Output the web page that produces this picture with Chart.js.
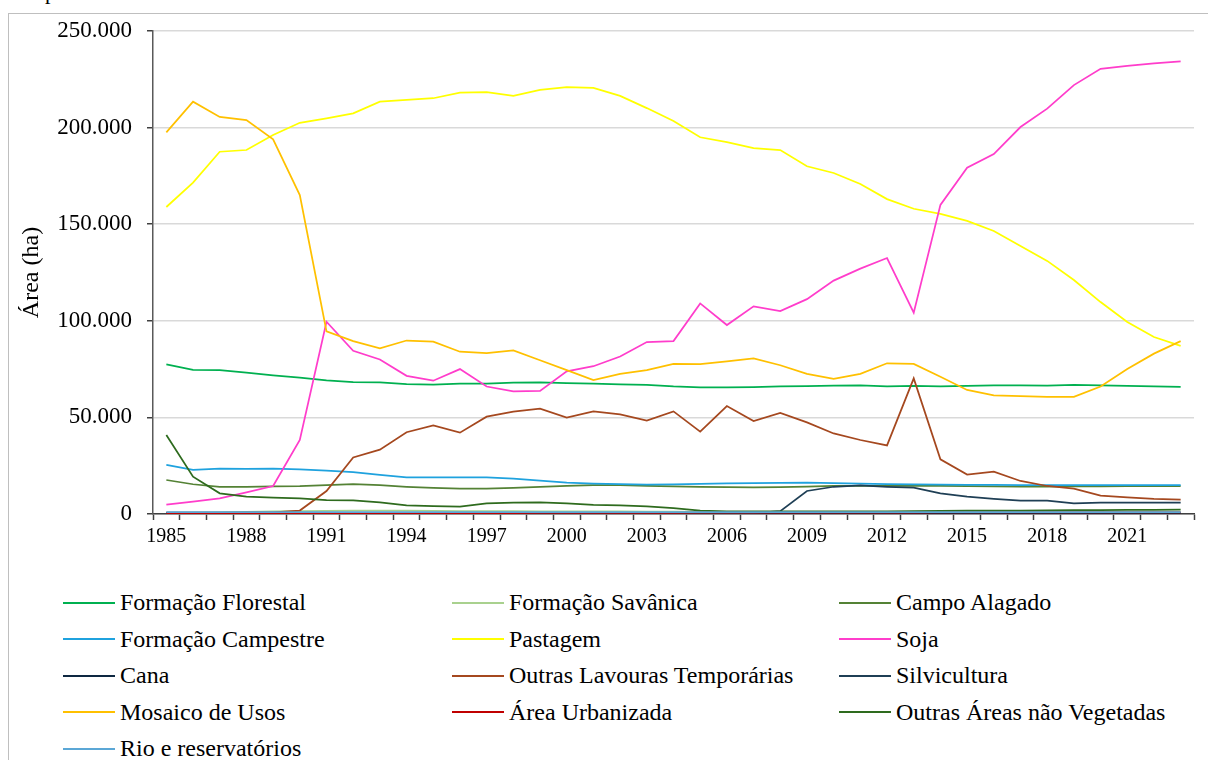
<!DOCTYPE html>
<html>
<head>
<meta charset="utf-8">
<script src="https://cdn.jsdelivr.net/npm/chart.js@4.4.1/dist/chart.umd.min.js"></script>
<style>
  html, body { margin: 0; padding: 0; background: #fff; }
  body { width: 1208px; height: 760px; position: relative; overflow: hidden; font-family: 'Liberation Serif', 'Times New Roman', serif; }
  .frame { position: absolute; left: 8px; top: 13px; width: 1300px; height: 900px; border: 1px solid #bfbfbf; }
  .cut { position: absolute; left: 29px; top: -19px; font-size: 22px; line-height: 22px; }
  #chart { position: absolute; left: 0; top: 0; }
  .legend-item { position: absolute; height: 30px; display: flex; align-items: center; font-size: 24px; color: #000; white-space: nowrap; }
  .legend-item .swatch { display: inline-block; width: 52px; height: 2px; margin-right: 5px; }
</style>
</head>
<body>
<div class="frame"></div>
<div class="cut">Ap</div>
<canvas id="chart" width="1208" height="560"></canvas>
<div id="legend"></div>
<script>
// years on the category axis
const years = ['1985', '1986', '1987', '1988', '1989', '1990', '1991', '1992', '1993', '1994',
  '1995', '1996', '1997', '1998', '1999', '2000', '2001', '2002', '2003', '2004',
  '2005', '2006', '2007', '2008', '2009', '2010', '2011', '2012', '2013', '2014',
  '2015', '2016', '2017', '2018', '2019', '2020', '2021', '2022', '2023'];

// area (ha) per class
const formacaoFlorestal = [77500, 74600, 74500, 73200, 71800, 70600, 69200, 68300, 68100, 67200,
  67000, 67500, 67500, 68000, 68100, 67800, 67500, 67100, 66800, 66000,
  65600, 65500, 65700, 66000, 66200, 66500, 66600, 66100, 66300, 66000,
  66300, 66600, 66600, 66500, 66800, 66600, 66300, 66000, 65800];
const formacaoSavanica = [600, 700, 900, 1100, 1300, 1500, 1600, 1700, 1800, 1700,
  1600, 1500, 1500, 1500, 1400, 1400, 1300, 1300, 1200, 1200,
  1100, 1100, 1100, 1000, 1000, 1000, 1000, 1000, 1000, 1000,
  1000, 1000, 1000, 1000, 1000, 1000, 1000, 1000, 1000];
const campoAlagado = [17600, 15400, 14100, 14100, 14300, 14400, 15000, 15400, 15000, 14100,
  13500, 13100, 13100, 13500, 14100, 14600, 15000, 15000, 14600, 14300,
  14100, 13900, 13800, 13900, 14200, 14500, 14600, 14600, 14600, 14500,
  14400, 14300, 14200, 14200, 14300, 14300, 14400, 14400, 14400];
const formacaoCampestre = [25400, 22800, 23500, 23300, 23500, 23100, 22400, 21700, 20200, 19000,
  19000, 19000, 19000, 18300, 17300, 16200, 15700, 15400, 15200, 15300,
  15600, 15800, 16000, 16100, 16300, 16000, 15700, 15500, 15300, 15200,
  15100, 15100, 15000, 15000, 15000, 15000, 15000, 15000, 15000];
const pastagem = [158900, 171500, 187500, 188400, 196200, 202500, 204800, 207400, 213400, 214300,
  215200, 218100, 218400, 216400, 219500, 221000, 220500, 216400, 210100, 203400,
  195000, 192500, 189400, 188400, 180000, 176500, 170800, 163000, 158000, 155300,
  151700, 146500, 138700, 131000, 121100, 109700, 99400, 91600, 87000];
const soja = [4800, 6400, 8100, 11200, 14500, 38300, 99500, 84500, 80000, 71500,
  69000, 75000, 66000, 63500, 63700, 73800, 76500, 81500, 89000, 89500,
  109000, 97800, 107500, 105000, 111200, 120800, 127000, 132500, 104200, 160000,
  179200, 186300, 200300, 209800, 222000, 230400, 232000, 233300, 234300];
const cana = [400, 400, 400, 400, 400, 400, 400, 400, 400, 400,
  400, 400, 400, 400, 400, 400, 400, 400, 400, 400,
  400, 400, 400, 400, 400, 400, 400, 400, 400, 400,
  400, 400, 400, 400, 400, 400, 400, 400, 400];
const outrasLavouras = [700, 700, 700, 800, 900, 1800, 11900, 29300, 33300, 42300,
  45900, 42100, 50400, 53000, 54500, 49900, 53100, 51600, 48300, 53100,
  42600, 55900, 48100, 52300, 47400, 41700, 38300, 35500, 70200, 28300,
  20400, 21900, 17100, 14500, 13100, 9500, 8600, 7800, 7400];
const silvicultura = [500, 500, 500, 500, 500, 500, 500, 500, 500, 500,
  500, 500, 500, 500, 500, 500, 500, 500, 500, 500,
  500, 500, 500, 1500, 11900, 14100, 14800, 14100, 13600, 10700,
  9000, 7800, 6900, 6900, 5500, 5900, 5900, 5900, 5900];
const mosaicoUsos = [197500, 213400, 205500, 203900, 193900, 165100, 94500, 89500, 85800, 89800,
  89200, 84000, 83300, 84700, 79600, 74500, 69300, 72500, 74500, 77700,
  77600, 79000, 80500, 77000, 72500, 70000, 72500, 78000, 77700, 71000,
  64200, 61400, 61000, 60600, 60600, 66000, 75000, 83000, 89500];
const areaUrbanizada = [300, 300, 300, 350, 350, 400, 400, 400, 450, 450,
  450, 500, 500, 500, 550, 550, 550, 600, 600, 600,
  650, 650, 650, 700, 700, 700, 750, 750, 750, 800,
  800, 800, 850, 850, 850, 900, 900, 900, 900];
const outrasAreas = [40900, 19300, 10700, 9000, 8500, 8100, 7200, 7100, 6000, 4500,
  4100, 3800, 5500, 5900, 6000, 5500, 4700, 4400, 3900, 3100,
  1700, 1400, 1300, 1300, 1300, 1300, 1300, 1400, 1500, 1600,
  1700, 1800, 1800, 1900, 2000, 2000, 2100, 2100, 2200];
const rioReservatorios = [1000, 1000, 1000, 1000, 1000, 1000, 1000, 1000, 1000, 1000,
  1000, 1000, 1000, 1000, 1000, 1000, 1000, 1000, 1000, 1000,
  1000, 1000, 1000, 1000, 1000, 1000, 1000, 1000, 1000, 1000,
  1000, 1000, 1000, 1000, 1000, 1000, 1000, 1000, 1000];

const series = [
  ['Formação Florestal', formacaoFlorestal, '#00B050'],
  ['Formação Savânica', formacaoSavanica, '#A9D18E'],
  ['Campo Alagado', campoAlagado, '#548235'],
  ['Formação Campestre', formacaoCampestre, '#1FA2DE'],
  ['Pastagem', pastagem, '#FFFF00'],
  ['Soja', soja, '#FF3DCB'],
  ['Cana', cana, '#0E2841'],
  ['Outras Lavouras Temporárias', outrasLavouras, '#A5481F'],
  ['Silvicultura', silvicultura, '#1F3F55'],
  ['Mosaico de Usos', mosaicoUsos, '#FFC000'],
  ['Área Urbanizada', areaUrbanizada, '#C00000'],
  ['Outras Áreas não Vegetadas', outrasAreas, '#2E6B1E'],
  ['Rio e reservatórios', rioReservatorios, '#5BA7D6']
];

const serif = "'Liberation Serif', 'Times New Roman', serif";
const fmt = v => String(v).replace(/\B(?=(\d{3})+(?!\d))/g, '.');

const chart = new Chart(document.getElementById('chart'), {
  type: 'line',
  data: {
    labels: years,
    datasets: series.map(([label, data, color], i) => ({
      label, data,
      borderColor: color,
      backgroundColor: color,
      borderWidth: 1.75,
      pointRadius: 0,
      tension: 0,
      order: series.length - i
    }))
  },
  options: {
    responsive: false,
    animation: false,
    devicePixelRatio: 1,
    layout: { padding: { left: 0, top: 31, right: 14, bottom: 0 } },
    plugins: { legend: { display: false }, tooltip: { enabled: false } },
    scales: {
      x: {
        offset: true,
        afterFit: s => { s.height = 46; },
        grid: { offset: true, drawOnChartArea: false, drawTicks: true, tickLength: 6, tickColor: '#404040', tickWidth: 1.5 },
        border: { color: '#404040', width: 1.5 },
        ticks: {
          autoSkip: false, maxRotation: 0, minRotation: 0, padding: 5,
          color: '#000', font: { family: serif, size: 20 },
          callback: (v, i) => (i % 3 === 0 ? years[i] : '')
        }
      },
      y: {
        min: 0, max: 250000,
        afterFit: s => { s.width = 153; },
        grid: { color: '#d9d9d9', lineWidth: 1.5, drawTicks: true, tickLength: 6, tickColor: '#404040', tickWidth: 1.5 },
        border: { color: '#595959', width: 1.5 },
        ticks: {
          stepSize: 50000, padding: 15, color: '#000',
          font: { family: serif, size: 23 },
          callback: v => fmt(v)
        },
        title: {
          display: true, text: 'Área (ha)', color: '#000',
          font: { family: serif, size: 24 },
          padding: { top: 17, bottom: 0 }
        }
      }
    }
  }
});

// legend: 3 columns, row-major like the original
const legend = document.getElementById('legend');
const colX = [63, 452, 839];
chart.data.datasets.forEach((ds, i) => {
  const item = document.createElement('div');
  item.className = 'legend-item';
  item.style.left = colX[i % 3] + 'px';
  item.style.top = (587.5 + Math.floor(i / 3) * 36.5) + 'px';
  const sw = document.createElement('span');
  sw.className = 'swatch';
  sw.style.background = ds.borderColor;
  item.appendChild(sw);
  item.appendChild(document.createTextNode(ds.label));
  legend.appendChild(item);
});
</script>
</body>
</html>
